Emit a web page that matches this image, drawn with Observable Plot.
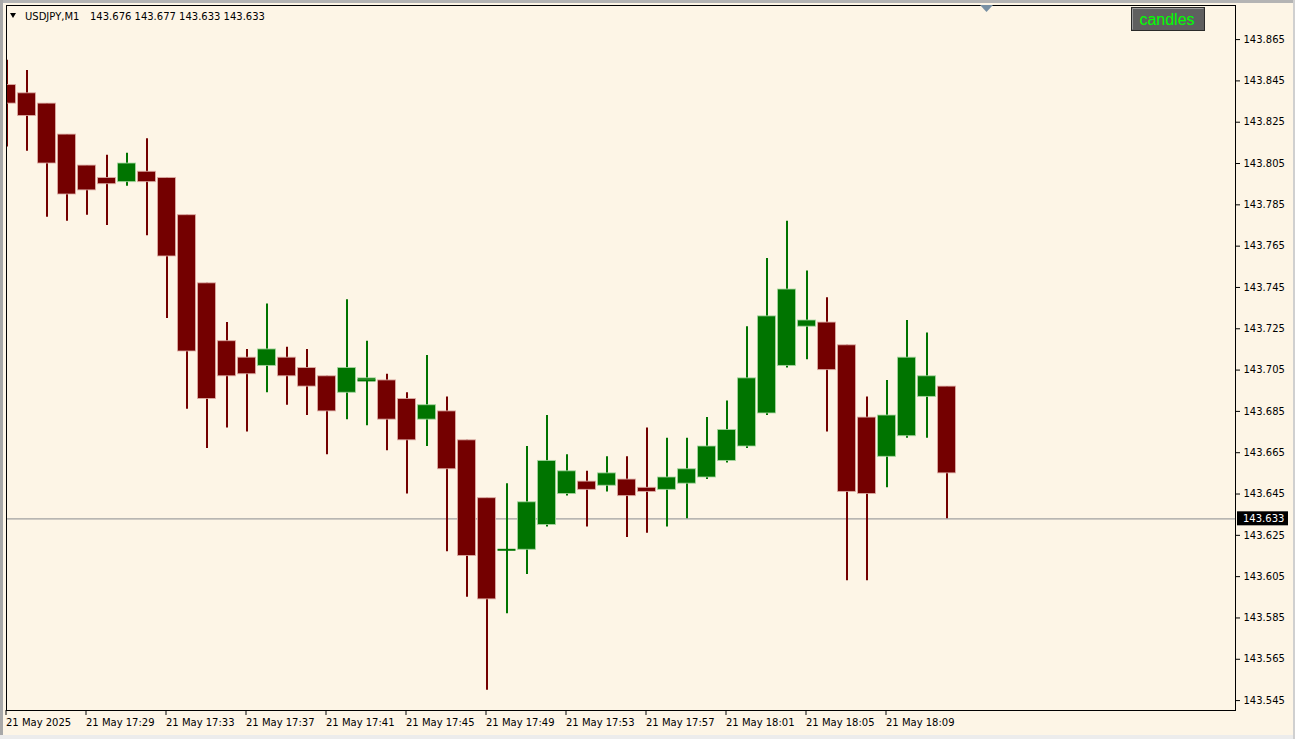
<!DOCTYPE html>
<html>
<head>
<meta charset="utf-8">
<script src="https://cdn.jsdelivr.net/npm/d3@7"></script>
<script src="https://cdn.jsdelivr.net/npm/@observablehq/plot@0.6"></script>
<style>
  html, body { margin: 0; padding: 0; background: #fdf5e6; }
  #chart { position: relative; width: 1295px; height: 739px; overflow: hidden; }
</style>
</head>
<body>
<div id="chart"></div>
<script>
// ---- data (USDJPY, M1, 21 May 2025 from 17:25) ----
const symbolLabel = "USDJPY,M1";
const headerValues = "143.676 143.677 143.633 143.633";
const currentPrice = 143.633;
const startTime = Date.UTC(2025, 4, 21, 17, 25);

const opens = [143.843,143.839,143.834,143.819,143.804,143.798,143.796,143.801,143.798,143.780,
  143.747,143.719,143.711,143.707,143.711,143.706,143.702,143.694,143.700,143.700,
  143.691,143.681,143.685,143.671,143.643,143.618,143.618,143.630,143.645,143.651,
  143.649,143.652,143.648,143.647,143.650,143.653,143.661,143.668,143.684,143.707,
  143.726,143.728,143.717,143.682,143.663,143.673,143.692,143.697];
const highs = [143.855,143.850,143.834,143.819,143.804,143.809,143.810,143.817,143.798,143.780,
  143.747,143.728,143.715,143.737,143.716,143.715,143.702,143.739,143.719,143.703,
  143.694,143.712,143.692,143.671,143.643,143.650,143.668,143.683,143.664,143.656,
  143.663,143.663,143.677,143.672,143.672,143.682,143.690,143.726,143.759,143.777,
  143.753,143.740,143.717,143.692,143.700,143.729,143.723,143.697];
const lows = [143.813,143.811,143.779,143.777,143.780,143.775,143.794,143.770,143.730,143.686,
  143.667,143.677,143.675,143.694,143.688,143.683,143.664,143.681,143.678,143.666,
  143.645,143.668,143.617,143.595,143.550,143.587,143.606,143.629,143.644,143.629,
  143.646,143.624,143.626,143.629,143.633,143.652,143.660,143.667,143.683,143.706,
  143.710,143.675,143.603,143.603,143.648,143.672,143.672,143.633];
const closes = [143.834,143.828,143.805,143.790,143.792,143.795,143.805,143.796,143.760,143.714,
  143.691,143.702,143.703,143.715,143.702,143.697,143.685,143.706,143.701,143.681,
  143.671,143.688,143.657,143.615,143.594,143.618,143.641,143.661,143.656,143.647,
  143.655,143.644,143.646,143.653,143.657,143.668,143.676,143.701,143.731,143.744,
  143.729,143.705,143.646,143.645,143.683,143.711,143.702,143.655];

const yTicks = [143.545,143.565,143.585,143.605,143.625,143.645,143.665,143.685,143.705,
  143.725,143.745,143.765,143.785,143.805,143.825,143.845,143.865];
const xTickBars = [0,4,8,12,16,20,24,28,32,36,40,44];
const xTickLabels = ["21 May 2025","21 May 17:29","21 May 17:33","21 May 17:37","21 May 17:41",
  "21 May 17:45","21 May 17:49","21 May 17:53","21 May 17:57","21 May 18:01","21 May 18:05","21 May 18:09"];

// ---- build ----
const BULL = "#007400", BEAR = "#740000";
const MIN = 60000;
const bars = opens.map((o, i) => ({
  t: new Date(startTime + i * MIN), o, h: highs[i], l: lows[i], c: closes[i],
  col: closes[i] >= o ? BULL : BEAR,
  edge: closes[i] >= o ? "#a8d8a0" : "#e0b0a8"
}));
const half = 27000;
const tickDates = xTickBars.map(i => new Date(startTime + i * MIN));
const labelMap = new Map(tickDates.map((d, i) => [+d, xTickLabels[i]]));
const dojis = bars.filter(d => Math.abs(d.o - d.c) < 0.0012);

const x0 = startTime - 1500;
const plot = Plot.plot({
  width: 1295, height: 739,
  marginLeft: 6, marginRight: 60, marginTop: 5, marginBottom: 29,
  style: { background: "transparent", fontFamily: "DejaVu Sans", fontSize: "10px", color: "#000" },
  x: { type: "utc", domain: [new Date(x0), new Date(x0 + 3687000)] },
  y: { domain: [143.5402, 143.8815] },
  color: { type: "identity" },
  marks: [
    Plot.ruleY([currentPrice], { stroke: "#a0a0a0", strokeWidth: 1.2 }),
    Plot.ruleX(bars, { x: "t", y1: "l", y2: "h", stroke: "col", strokeWidth: 2, clip: "frame" }),
    Plot.rect(bars, {
      x1: d => new Date(+d.t - half), x2: d => new Date(+d.t + half),
      y1: "o", y2: "c", fill: "col", stroke: "edge", strokeWidth: 1, strokeOpacity: 0.8, clip: "frame"
    }),
    Plot.ruleY(dojis, {
      y: "o", x1: d => new Date(+d.t - half), x2: d => new Date(+d.t + half),
      stroke: "col", strokeWidth: 2, clip: "frame"
    }),
    Plot.axisY(yTicks, { anchor: "right", tickSize: 4, tickPadding: 4, tickFormat: d => d.toFixed(3), label: null, fill: "#000", stroke: "#000" }),
    Plot.axisX(tickDates, { anchor: "bottom", tickSize: 5, tickPadding: 3, tickFormat: d => labelMap.get(+d), textAnchor: "start", dx: -1, label: null, fill: "#000", stroke: "#000" }),
    Plot.frame({ stroke: "#000" })
  ]
});
document.getElementById("chart").appendChild(plot);

// ---- annotations using the plot's scales ----
const svg = d3.select(plot);
const yPx = plot.scale("y").apply(currentPrice);
const g = svg.append("g").attr("font-family", "DejaVu Sans").attr("font-size", 10).attr("text-anchor", "start");
g.append("rect").attr("x", 1237).attr("y", yPx - 7).attr("width", 51).attr("height", 14).attr("fill", "#000");
g.append("text").attr("x", 1243).attr("y", yPx).attr("dy", "0.35em").attr("text-anchor", "start").attr("fill", "#fff").text(currentPrice.toFixed(3));

// header
g.append("path").attr("d", "M10,13 L16,13 L13,18 Z").attr("fill", "#000");
g.append("text").attr("x", 25).attr("y", 16).attr("dy", "0.35em").attr("text-anchor", "start").attr("fill", "#000").text(symbolLabel);
g.append("text").attr("x", 90).attr("y", 16).attr("dy", "0.35em").attr("text-anchor", "start").attr("fill", "#000").text(headerValues);

// "candles" button
const b = svg.append("g");
b.append("rect").attr("x", 1131.5).attr("y", 7.5).attr("width", 73).attr("height", 23).attr("fill", "#5f5f5f").attr("stroke", "#2a2a2a");
b.append("path").attr("d", "M1132.5,29.5 L1132.5,8.5 L1203.5,8.5").attr("fill", "none").attr("stroke", "#9a9a9a");
b.append("text").attr("x", 1167).attr("y", 19).attr("dy", "0.35em").attr("text-anchor", "middle")
  .attr("font-family", "Liberation Sans").attr("font-size", 16).attr("fill", "#00ff00").text("candles");

// chart shift marker
svg.append("path").attr("d", "M980,5 L993,5 L986.5,12 Z").attr("fill", "#7890a4");

// window borders
svg.append("rect").attr("x", 0).attr("y", 0).attr("width", 1295).attr("height", 3).attr("fill", "#b4b4b4");
svg.append("rect").attr("x", 0).attr("y", 0).attr("width", 3).attr("height", 739).attr("fill", "#a8a8a8");
svg.append("rect").attr("x", 0).attr("y", 735).attr("width", 1295).attr("height", 4).attr("fill", "#ececec");
svg.append("rect").attr("x", 1293).attr("y", 0).attr("width", 2).attr("height", 739).attr("fill", "#d0d0d0");
</script>
</body>
</html>
